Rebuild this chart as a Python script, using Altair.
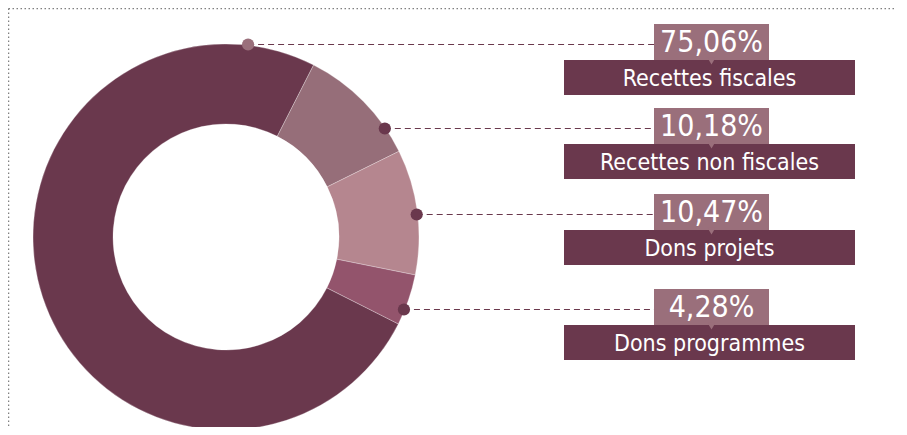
import math
import altair as alt
import pandas as pd

# ---- data ----
categories = ["Recettes fiscales", "Recettes non fiscales", "Dons projets", "Dons programmes"]
values = [75.06, 10.18, 10.47, 4.28]
pct_labels = ["75,06%", "10,18%", "10,47%", "4,28%"]
slice_colors = ["#6a384d", "#966e79", "#b5868f", "#93546c"]
dot_colors = ["#9a6f7b", "#6a384d", "#6a384d", "#6a384d"]
pie_order = [3, 0, 1, 2]

# ---- layout (chart pixel coordinates) ----
W, H = 891, 419
CX, CY = 218, 229
R_OUT, R_IN = 193, 113
R_DOT = 194
START = math.radians(27)
ROW_TOPS = [16, 100, 186, 281]
PCT_X0, PCT_X1, PCT_H = 646, 761, 36
NAME_X0, NAME_X1, NAME_H = 556, 847, 35
PCT_COLOR = "#9a6f7b"
NAME_COLOR = "#6a384d"
FONT = "Liberation Sans Narrow, DejaVu Sans Condensed, Roboto Condensed, Roboto, sans-serif"

xs = alt.Scale(domain=[0, W], range=[0, W], nice=False, zero=False)
ys = alt.Scale(domain=[0, H], range=[0, H], nice=False, zero=False)

pie_df = pd.DataFrame({"cat": categories, "val": values, "ord": pie_order})

rows = []
for i, cat in enumerate(categories):
    top = ROW_TOPS[i]
    ly = top + 20.5
    dx = math.sqrt(max(R_DOT ** 2 - (ly - CY) ** 2, 0)) - 2
    rows.append({
        "cat": cat, "pct": pct_labels[i], "dotc": dot_colors[i],
        "dot_x": CX + dx, "line_y": ly, "line_x2": PCT_X0,
        "px0": PCT_X0, "px1": PCT_X1, "py0": top, "py1": top + PCT_H,
        "pcx": (PCT_X0 + PCT_X1) / 2, "pcy": top + PCT_H / 2 + 1,
        "nx0": NAME_X0, "nx1": NAME_X1, "ny0": top + PCT_H, "ny1": top + PCT_H + NAME_H,
        "ncx": (NAME_X0 + NAME_X1) / 2, "ncy": top + PCT_H + NAME_H / 2 + 1,
        "tri_y": top + PCT_H + 1,
    })
rows_df = pd.DataFrame(rows)

border_df = pd.DataFrame([
    {"x": 0.5, "x2": W - 3, "y": 0.5, "y2": 0.5},
    {"x": 0.5, "x2": 0.5, "y": 0.5, "y2": H},
])

arcs = alt.Chart(pie_df).mark_arc(
    innerRadius=R_IN, outerRadius=R_OUT, stroke="#ffffff", strokeWidth=0.4, strokeOpacity=0.7
).encode(
    theta=alt.Theta("val:Q", stack=True, scale=alt.Scale(range=[START, START + 2 * math.pi])),
    order=alt.Order("ord:Q", sort="ascending"),
    color=alt.Color("cat:N", scale=alt.Scale(domain=categories, range=slice_colors), legend=None),
    x=alt.value(CX), y=alt.value(CY),
)

base = alt.Chart(rows_df)

lines = base.mark_rule(strokeDash=[6, 4], strokeWidth=1.2, color=NAME_COLOR).encode(
    x=alt.X("dot_x:Q", scale=xs, axis=None), x2="line_x2:Q",
    y=alt.Y("line_y:Q", scale=ys, axis=None),
)

dots = base.mark_circle(size=150, opacity=1).encode(
    x=alt.X("dot_x:Q", scale=xs, axis=None),
    y=alt.Y("line_y:Q", scale=ys, axis=None),
    color=alt.Color("dotc:N", scale=None),
)

name_box = base.mark_rect(color=NAME_COLOR).encode(
    x=alt.X("nx0:Q", scale=xs, axis=None), x2="nx1:Q",
    y=alt.Y("ny0:Q", scale=ys, axis=None), y2="ny1:Q",
)

pct_box = base.mark_rect(color=PCT_COLOR).encode(
    x=alt.X("px0:Q", scale=xs, axis=None), x2="px1:Q",
    y=alt.Y("py0:Q", scale=ys, axis=None), y2="py1:Q",
)

tri = base.mark_point(shape="triangle-down", filled=True, size=70, opacity=1, color=PCT_COLOR).encode(
    x=alt.X("pcx:Q", scale=xs, axis=None),
    y=alt.Y("tri_y:Q", scale=ys, axis=None),
)

pct_text = base.mark_text(font=FONT, fontSize=30, color="white", baseline="middle", align="center").encode(
    x=alt.X("pcx:Q", scale=xs, axis=None),
    y=alt.Y("pcy:Q", scale=ys, axis=None),
    text="pct:N",
)

name_text = base.mark_text(font=FONT, fontSize=23, color="white", baseline="middle", align="center").encode(
    x=alt.X("ncx:Q", scale=xs, axis=None),
    y=alt.Y("ncy:Q", scale=ys, axis=None),
    text="cat:N",
)

border = alt.Chart(border_df).mark_rule(strokeDash=[1.5, 2.5], strokeWidth=1.5, color="#808080").encode(
    x=alt.X("x:Q", scale=xs, axis=None), x2="x2:Q",
    y=alt.Y("y:Q", scale=ys, axis=None), y2="y2:Q",
)

chart = alt.layer(border, arcs, lines, dots, name_box, pct_box, tri, pct_text, name_text).properties(
    width=W, height=H, padding=0, autosize=alt.AutoSizeParams(type="none")
).configure_view(stroke=None)

chart.save("out.html", embed_options={"renderer": "svg", "actions": False})
